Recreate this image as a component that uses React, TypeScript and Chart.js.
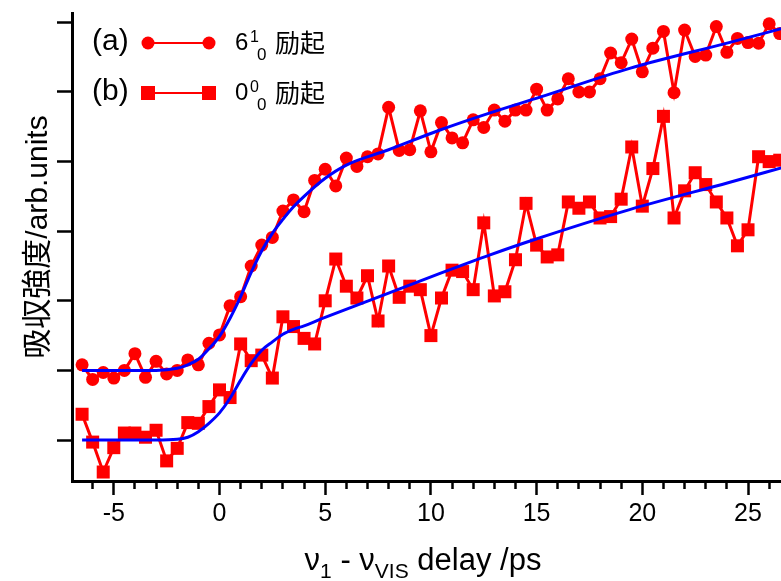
import React, { useEffect, useRef } from 'react';
import { Chart, registerables } from 'chart.js';

Chart.register(...registerables);

const FONT = "'Liberation Sans', 'Noto Sans CJK JP', sans-serif";

// delay times (ps)
const delays = [
  -6.5, -6, -5.5, -5, -4.5, -4, -3.5, -3, -2.5, -2, -1.5, -1, -0.5, 0, 0.5, 1, 1.5, 2, 2.5, 3, 3.5, 4,
  4.5, 5, 5.5, 6, 6.5, 7, 7.5, 8, 8.5, 9, 9.5, 10, 10.5, 11, 11.5, 12, 12.5, 13, 13.5, 14, 14.5, 15,
  15.5, 16, 16.5, 17, 17.5, 18, 18.5, 19, 19.5, 20, 20.5, 21, 21.5, 22, 22.5, 23, 23.5, 24, 24.5, 25,
  25.5, 26, 26.5,
];

// (a) 6^1_0 excitation
const seriesA = [
  1.08, 0.87, 0.97, 0.89, 1.0, 1.24, 0.9, 1.13, 0.95, 1.0, 1.15, 1.08, 1.39, 1.51, 1.93, 2.06, 2.5, 2.8,
  2.91, 3.29, 3.45, 3.28, 3.73, 3.89, 3.65, 4.05, 3.93, 4.07, 4.11, 4.78, 4.16, 4.17, 4.73, 4.14, 4.56,
  4.34, 4.27, 4.6, 4.49, 4.74, 4.58, 4.74, 4.74, 5.04, 4.74, 4.9, 5.19, 5.0, 5.0, 5.19, 5.56, 5.42, 5.76,
  5.29, 5.63, 5.87, 4.99, 5.89, 5.51, 5.53, 5.94, 5.57, 5.77, 5.71, 5.7, 5.98, 5.84,
];

// (b) 0^0_0 excitation
const seriesB = [
  0.37, -0.03, -0.46, -0.11, 0.1, 0.1, 0.04, 0.14, -0.3, -0.12, 0.25, 0.24, 0.48, 0.72, 0.61, 1.38, 1.14,
  1.22, 0.89, 1.77, 1.63, 1.46, 1.38, 2.0, 2.6, 2.21, 2.04, 2.36, 1.71, 2.5, 2.05, 2.21, 2.16, 1.5, 2.04,
  2.44, 2.42, 2.16, 3.12, 2.07, 2.13, 2.59, 3.4, 2.8, 2.63, 2.66, 3.42, 3.33, 3.42, 3.19, 3.21, 3.46, 4.21,
  3.36, 3.9, 4.65, 3.19, 3.58, 3.84, 3.67, 3.42, 3.19, 2.79, 3.02, 4.07, 4.0, 4.02,
];

// fitted curves
const fitAx = [-6.5, -4, -3, -2, -1.5, -1, -0.5, 0, 0.5, 1, 1.5, 2, 2.5, 3, 3.5, 4, 5, 6, 8, 10.4, 12.8, 15.2, 19.4, 24.1, 26.7];
const fitAy = [1.0, 1.0, 1.0, 1.03, 1.08, 1.16, 1.31, 1.49, 1.75, 2.06, 2.41, 2.72, 2.97, 3.17, 3.35, 3.5, 3.76, 3.95, 4.17, 4.45, 4.7, 4.93, 5.34, 5.71, 5.92];
const fitBx = [-6.5, -3, -2, -1.5, -1, -0.5, 0, 0.5, 1, 1.5, 2, 2.5, 3, 3.5, 4, 4.9, 8, 10.4, 12.8, 14.8, 19.4, 24.1, 26.7];
const fitBy = [0, 0, 0.01, 0.04, 0.12, 0.24, 0.39, 0.6, 0.86, 1.1, 1.29, 1.41, 1.52, 1.59, 1.64, 1.75, 2.11, 2.39, 2.66, 2.87, 3.31, 3.7, 3.92];

const xMajorTicks = [-5, 0, 5, 10, 15, 20, 25];
const yTickValues = [0, 1, 2, 3, 4, 5, 6];

const X_MIN = -6.977;
const X_MAX = 26.56;
const Y_MIN = -0.589;
const Y_MAX = 6.135;

const RED = '#ff0000';
const BLUE = '#0000ff';

type Run = { t: string; size: number; dy?: number };

function drawRuns(ctx: CanvasRenderingContext2D, runs: Run[], cx: number, baseline: number) {
  let total = 0;
  for (const r of runs) {
    ctx.font = `${r.size}px ${FONT}`;
    total += ctx.measureText(r.t).width;
  }
  let x = cx - total / 2;
  ctx.textAlign = 'left';
  ctx.textBaseline = 'alphabetic';
  for (const r of runs) {
    ctx.font = `${r.size}px ${FONT}`;
    ctx.fillText(r.t, x, baseline + (r.dy || 0));
    x += ctx.measureText(r.t).width;
  }
}

const annotations = {
  id: 'annotations',
  afterDraw(chart: any) {
    const ctx: CanvasRenderingContext2D = chart.ctx;
    ctx.save();
    ctx.fillStyle = '#000';

    // y title
    ctx.save();
    ctx.translate(39, 237);
    ctx.rotate(-Math.PI / 2);
    ctx.font = `30px ${FONT}`;
    ctx.textAlign = 'center';
    ctx.textBaseline = 'middle';
    ctx.fillText('吸収強度/arb.units', 0, 0);
    ctx.restore();

    // x title
    drawRuns(
      ctx,
      [
        { t: 'ν', size: 31 },
        { t: '1', size: 21, dy: 8 },
        { t: ' - ', size: 31 },
        { t: 'ν', size: 31 },
        { t: 'VIS', size: 21, dy: 8 },
        { t: ' delay /ps', size: 31 },
      ],
      423,
      570
    );

    // legend
    const rows = [
      { label: '(a)', y: 43, main: '6', sup: '1', sub: '0', style: 'circle' },
      { label: '(b)', y: 93, main: '0', sup: '0', sub: '0', style: 'rect' },
    ];
    for (const row of rows) {
      const base = row.y + 7;
      ctx.fillStyle = '#000';
      ctx.textAlign = 'left';
      ctx.textBaseline = 'alphabetic';
      ctx.font = `30px ${FONT}`;
      ctx.fillText(row.label, 92, base);

      ctx.strokeStyle = RED;
      ctx.lineWidth = 2;
      ctx.beginPath();
      ctx.moveTo(148, row.y);
      ctx.lineTo(209, row.y);
      ctx.stroke();
      ctx.fillStyle = RED;
      for (const mx of [148, 209]) {
        if (row.style === 'circle') {
          ctx.beginPath();
          ctx.arc(mx, row.y, 6.5, 0, Math.PI * 2);
          ctx.fill();
        } else {
          ctx.fillRect(mx - 7, row.y - 7, 14, 14);
        }
      }

      ctx.fillStyle = '#000';
      ctx.font = `24px ${FONT}`;
      ctx.fillText(row.main, 235, base);
      ctx.font = `16px ${FONT}`;
      ctx.fillText(row.sup, 250, base - 8);
      ctx.font = `17px ${FONT}`;
      ctx.fillText(row.sub, 257, base + 10);
      ctx.font = `25px ${FONT}`;
      ctx.fillText('励起', 275, base + 2);
    }
    ctx.restore();
  },
};

export default function App() {
  const canvasRef = useRef<HTMLCanvasElement | null>(null);

  useEffect(() => {
    if (!canvasRef.current) return;
    const chart = new Chart(canvasRef.current, {
      type: 'line',
      data: {
        datasets: [
          {
            label: 'fit a',
            data: fitAx.map((x, i) => ({ x, y: fitAy[i] })),
            borderColor: BLUE,
            borderWidth: 3,
            pointRadius: 0,
            cubicInterpolationMode: 'monotone',
            fill: false,
            order: 0,
          },
          {
            label: 'fit b',
            data: fitBx.map((x, i) => ({ x, y: fitBy[i] })),
            borderColor: BLUE,
            borderWidth: 3,
            pointRadius: 0,
            cubicInterpolationMode: 'monotone',
            fill: false,
            order: 0,
          },
          {
            label: '(a)',
            data: delays.map((x, i) => ({ x, y: seriesA[i] })),
            borderColor: RED,
            backgroundColor: RED,
            borderWidth: 3,
            pointStyle: 'circle',
            pointRadius: 6.5,
            pointBorderWidth: 0,
            tension: 0,
            fill: false,
            order: 1,
          },
          {
            label: '(b)',
            data: delays.map((x, i) => ({ x, y: seriesB[i] })),
            borderColor: RED,
            backgroundColor: RED,
            borderWidth: 3,
            pointStyle: 'rect',
            pointRadius: 9.2,
            pointBorderWidth: 0,
            tension: 0,
            fill: false,
            order: 1,
          },
        ],
      },
      options: {
        animation: false,
        responsive: false,
        devicePixelRatio: 1,
        layout: { autoPadding: false, padding: { top: 13, left: 0, right: 0, bottom: 0 } },
        plugins: { legend: { display: false }, tooltip: { enabled: false } },
        scales: {
          x: {
            type: 'linear',
            position: 'bottom',
            min: X_MIN,
            max: X_MAX,
            afterFit: (s: any) => {
              s.height = 100;
              s.paddingLeft = 0;
              s.paddingRight = 0;
            },
            afterBuildTicks: (s: any) => {
              s.ticks = s.ticks.filter((t: any) => Number.isInteger(t.value) && t.value > X_MIN);
            },
            grid: {
              display: true,
              drawOnChartArea: false,
              drawTicks: true,
              tickLength: 14,
              tickWidth: 2.5,
              tickColor: '#000',
              tickBorderDash: (c: any) =>
                c.tick && xMajorTicks.includes(c.tick.value) ? [] : [6, 60],
            },
            border: { display: true, color: '#000', width: 3 },
            ticks: {
              stepSize: 1,
              autoSkip: false,
              includeBounds: false,
              maxRotation: 0,
              padding: 4,
              color: '#000',
              font: { family: FONT, size: 25 },
              callback: (v: any) => (xMajorTicks.includes(Number(v)) ? String(v) : ''),
            },
          },
          y: {
            type: 'linear',
            min: Y_MIN,
            max: Y_MAX,
            afterFit: (s: any) => {
              s.width = 72;
              s.paddingTop = 0;
              s.paddingBottom = 0;
            },
            afterBuildTicks: (s: any) => {
              s.ticks = yTickValues.map((v) => ({ value: v }));
            },
            grid: {
              display: true,
              drawOnChartArea: false,
              drawTicks: true,
              tickLength: 15,
              tickWidth: 2.5,
              tickColor: '#000',
            },
            border: { display: true, color: '#000', width: 3 },
            ticks: { display: false, stepSize: 1 },
          },
        },
      },
      plugins: [annotations],
    } as any);
    return () => chart.destroy();
  }, []);

  return (
    <div style={{ position: 'fixed', left: 0, top: 0, width: 781, height: 581, background: '#fff' }}>
      <canvas ref={canvasRef} width={781} height={581} />
    </div>
  );
}
